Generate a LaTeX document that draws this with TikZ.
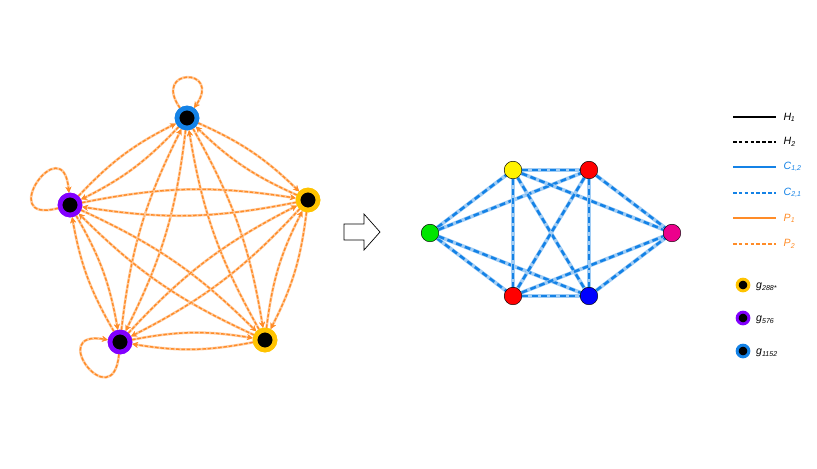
\documentclass[tikz,border=0pt]{standalone}
\usepackage{fontspec}
\setmainfont{Liberation Sans}
\usetikzlibrary{arrows.meta}
\definecolor{porange}{RGB}{255,140,40}
\definecolor{cblue}{RGB}{20,130,230}
\definecolor{gyel}{RGB}{255,195,0}
\definecolor{gpur}{RGB}{130,0,255}
\tikzset{
  gnode/.style={circle,fill=black,line width=4pt,minimum size=17pt,inner sep=0pt},
  cnode/.style={circle,draw=black,line width=0.4pt,minimum size=15pt,inner sep=0pt},
  pedge/.style={line width=2.2pt,draw=porange!45,postaction={draw=porange,dashed,line width=1.2pt,dash pattern=on 3pt off 1.5pt},-{Stealth[length=5pt,width=5pt,color=porange]}},
  cedge/.style={line width=3.2pt,draw=cblue!40,postaction={draw=cblue,line width=2.2pt,dash pattern=on 5pt off 3pt}},
  legtxt/.style={anchor=west,font=\itshape\small,inner sep=0pt}
}
\begin{document}
\begin{tikzpicture}[x=0.03cm,y=-0.03cm]
\useasboundingbox (0,0) rectangle (817,468);

% left graph
\node[gnode,draw=cblue] (t) at (187,118) {};
\node[gnode,draw=gpur] (l) at (70,205) {};
\node[gnode,draw=gyel] (r) at (308,200) {};
\node[gnode,draw=gpur] (bl) at (120,342) {};
\node[gnode,draw=gyel] (br) at (265,340) {};
\begin{scope}[on background layer/.try]
\foreach \a/\b in {t/l,t/r,t/bl,t/br,l/r,l/bl,l/br,r/bl,r/br,bl/br}
{
  \draw[pedge] (\a) to[bend left=10] (\b);
  \draw[pedge] (\b) to[bend left=10] (\a);
}
\draw[pedge] (t) to[out=125,in=55,looseness=9] (t);
\draw[pedge] (l) to[out=195,in=95,looseness=9] (l);
\draw[pedge] (bl) to[out=265,in=170,looseness=9] (bl);
\end{scope}
\node[gnode,draw=cblue] at (t) {};
\node[gnode,draw=gpur] at (l) {};
\node[gnode,draw=gyel] at (r) {};
\node[gnode,draw=gpur] at (bl) {};
\node[gnode,draw=gyel] at (br) {};

% block arrow
\draw[line width=0.6pt,line join=miter] (344,224) -- (364,224) -- (364,214) -- (380,232)
  -- (364,250) -- (364,240) -- (344,240) -- cycle;

% right graph
\coordinate (cg) at (430,233);
\coordinate (cy) at (513,170);
\coordinate (cr) at (589,170);
\coordinate (cm) at (672,233);
\coordinate (cs) at (513,296);
\coordinate (cb) at (589,296);
\foreach \a/\b in {cg/cy,cg/cr,cg/cs,cg/cb,cy/cr,cy/cs,cy/cb,cy/cm,cr/cs,cr/cb,cr/cm,cs/cb,cs/cm,cb/cm}
  \draw[cedge] (\a) -- (\b);
\node[cnode,fill=green!90!black] (ng) at (cg) {};
\node[cnode,fill=yellow] (ny) at (cy) {};
\node[cnode,fill=red] (nr) at (cr) {};
\node[cnode,fill=magenta] (nm) at (cm) {};
\node[cnode,fill=red] (ns) at (cs) {};
\node[cnode,fill=blue] (nb) at (cb) {};

% legend
\draw[black,line width=1.2pt] (733,117) -- (776,117) node[legtxt,xshift=6pt] {H\textsubscript{\upshape\kern-0.5pt\itshape 1}};
\draw[black,line width=1.2pt,dash pattern=on 3pt off 2pt] (733,142) -- (776,142) node[legtxt,xshift=6pt] {H\textsubscript{2}};
\draw[cblue,line width=1.2pt] (733,167) -- (776,167) node[legtxt,xshift=6pt] {C\textsubscript{1,2}};
\draw[cblue,line width=1.2pt,dash pattern=on 3pt off 2pt] (733,193) -- (776,193) node[legtxt,xshift=6pt] {C\textsubscript{2,1}};
\draw[porange,line width=1.2pt] (733,218) -- (776,218) node[legtxt,xshift=6pt] {P\textsubscript{1}};
\draw[porange,line width=1.2pt,dash pattern=on 3pt off 2pt] (733,244) -- (776,244) node[legtxt,xshift=6pt] {P\textsubscript{2}};
\node[gnode,draw=gyel,line width=2.5pt,minimum size=10pt] (k1) at (743,285) {};
\node[legtxt] at (756,287) {g\textsubscript{288*}};
\node[gnode,draw=gpur,line width=2.5pt,minimum size=10pt] (k2) at (743,318) {};
\node[legtxt] at (756,320) {g\textsubscript{576}};
\node[gnode,draw=cblue,line width=2.5pt,minimum size=10pt] (k3) at (743,351) {};
\node[legtxt] at (756,353) {g\textsubscript{1152}};
\end{tikzpicture}
\end{document}
